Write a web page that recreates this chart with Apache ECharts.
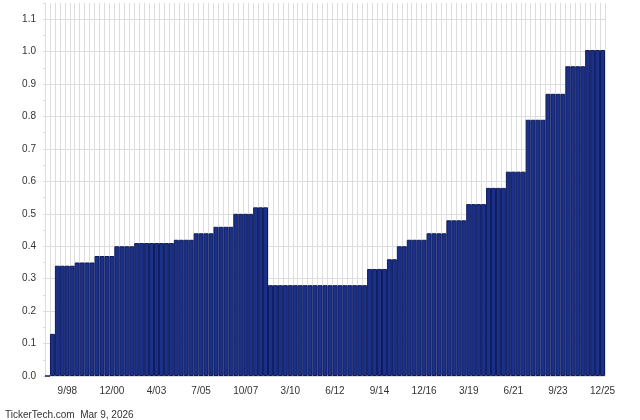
<!DOCTYPE html>
<html>
<head>
<meta charset="utf-8">
<script src="https://cdn.jsdelivr.net/npm/echarts@6/dist/echarts.min.js"></script>
<style>
html,body{margin:0;padding:0;background:#fff;}
#c{width:640px;height:420px;}
</style>
</head>
<body>
<div id="c"></div>
<script>
// Quarterly dividend values (one bar per quarter)
const dividends = [
  0,
  0.13,
  0.34, 0.34, 0.34, 0.34,
  0.35, 0.35, 0.35, 0.35,
  0.37, 0.37, 0.37, 0.37,
  0.40, 0.40, 0.40, 0.40,
  0.41, 0.41, 0.41, 0.41, 0.41, 0.41, 0.41, 0.41,
  0.42, 0.42, 0.42, 0.42,
  0.44, 0.44, 0.44, 0.44,
  0.46, 0.46, 0.46, 0.46,
  0.50, 0.50, 0.50, 0.50,
  0.52, 0.52, 0.52,
  0.28, 0.28, 0.28, 0.28, 0.28, 0.28, 0.28, 0.28, 0.28, 0.28,
  0.28, 0.28, 0.28, 0.28, 0.28, 0.28, 0.28, 0.28, 0.28, 0.28,
  0.33, 0.33, 0.33, 0.33,
  0.36, 0.36,
  0.40, 0.40,
  0.42, 0.42, 0.42, 0.42,
  0.44, 0.44, 0.44, 0.44,
  0.48, 0.48, 0.48, 0.48,
  0.53, 0.53, 0.53, 0.53,
  0.58, 0.58, 0.58, 0.58,
  0.63, 0.63, 0.63, 0.63,
  0.79, 0.79, 0.79, 0.79,
  0.87, 0.87, 0.87, 0.87,
  0.955, 0.955, 0.955, 0.955,
  1.005, 1.005, 1.005, 1.005
];
// x tick labels, shown every 9th quarter starting at quarter index 4
const tickLabels = ['9/98','12/00','4/03','7/05','10/07','3/10','6/12','9/14','12/16','3/19','6/21','9/23','12/25'];
const tickStart = 4;
const tickStep = 9;
const categories = dividends.map((_, i) => String(i));
const footer = 'TickerTech.com  Mar 9, 2026';

const chart = echarts.init(document.getElementById('c'), null, {renderer: 'canvas'});
const isTick = (i) => i >= tickStart && (i - tickStart) % tickStep === 0;
chart.setOption({
  animation: false,
  backgroundColor: '#ffffff',
  textStyle: {fontFamily: 'Liberation Sans, Arial, sans-serif'},
  grid: {left: 45, right: 35, top: 3, bottom: 44, containLabel: false},
  xAxis: {
    type: 'category',
    data: categories,
    boundaryGap: true,
    axisLine: {show: false},
    axisTick: {show: false},
    splitLine: {show: true, interval: 0, lineStyle: {color: '#dddddd', width: 1}},
    axisLabel: {
      interval: (i) => isTick(i),
      formatter: (v, i) => isTick(i) ? tickLabels[(i - tickStart) / tickStep] : '',
      color: '#333333',
      fontSize: 10,
      fontFamily: 'Liberation Sans, Arial, sans-serif',
      margin: 10,
      hideOverlap: false
    }
  },
  yAxis: {
    type: 'value',
    min: 0,
    max: 1.15,
    interval: 0.1,
    axisLine: {show: false},
    axisTick: {show: true, length: 2, lineStyle: {color: '#dddddd'}},
    minorTick: {show: true, splitNumber: 2, length: 2, lineStyle: {color: '#dddddd'}},
    splitLine: {show: true, showMaxLine: false, lineStyle: {color: '#dddddd', width: 1}},
    axisLabel: {
      showMaxLabel: false,
      formatter: (v) => v.toFixed(1),
      color: '#333333',
      fontSize: 10,
      fontFamily: 'Liberation Sans, Arial, sans-serif',
      margin: 9
    }
  },
  series: [{
    type: 'bar',
    data: dividends,
    barCategoryGap: '0%',
    barGap: '0%',
    itemStyle: {color: '#1b3089', borderColor: '#0f1c5c', borderWidth: 1}
  }],
  graphic: [{
    type: 'text',
    left: 5,
    top: 410,
    style: {text: footer, fill: '#333333', fontSize: 10, fontFamily: 'Liberation Sans, Arial, sans-serif'}
  }]
});
</script>
</body>
</html>
